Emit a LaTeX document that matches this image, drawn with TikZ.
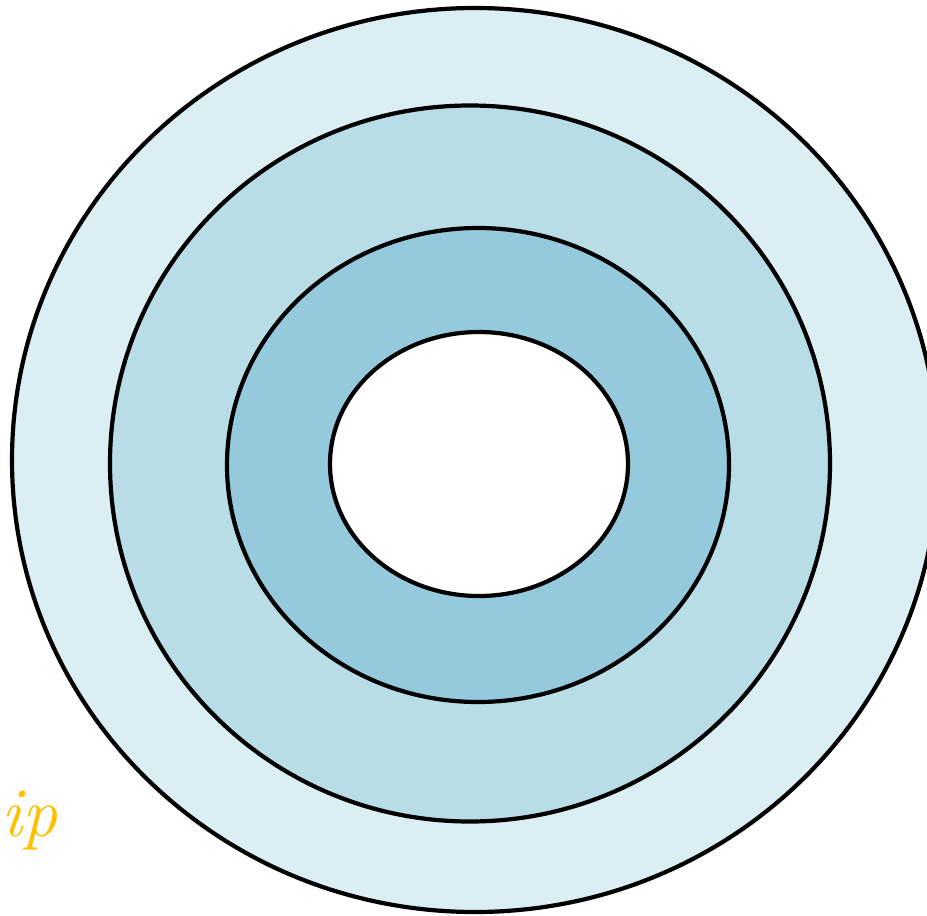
\documentclass[tikz,border=0pt]{standalone}
\begin{document}
\begin{tikzpicture}[x=1pt,y=-1pt,
  ring/.style={draw=black,line width=4.2pt},
  scripttext/.style={text=tipcol,font=\fontsize{70}{72}\selectfont\itshape,inner sep=0pt}]
\definecolor{c1}{HTML}{DBEEF4}
\definecolor{c2}{HTML}{B8DDE7}
\definecolor{c3}{HTML}{94CADC}
\definecolor{tipcol}{HTML}{FFC000}
\useasboundingbox (0,0) rectangle (927,916);
\draw[ring,fill=c1] (475,460) ellipse [x radius=463,y radius=452];
\draw[ring,fill=c2] (470,463.5) ellipse [x radius=360,y radius=358];
\draw[ring,fill=c3] (478,465) ellipse [x radius=251,y radius=237];
\draw[ring,fill=white] (479,464) ellipse [x radius=149,y radius=132];
\node[scripttext,anchor=base east] (tip) at (58,836) {ip};
\end{tikzpicture}
\end{document}
